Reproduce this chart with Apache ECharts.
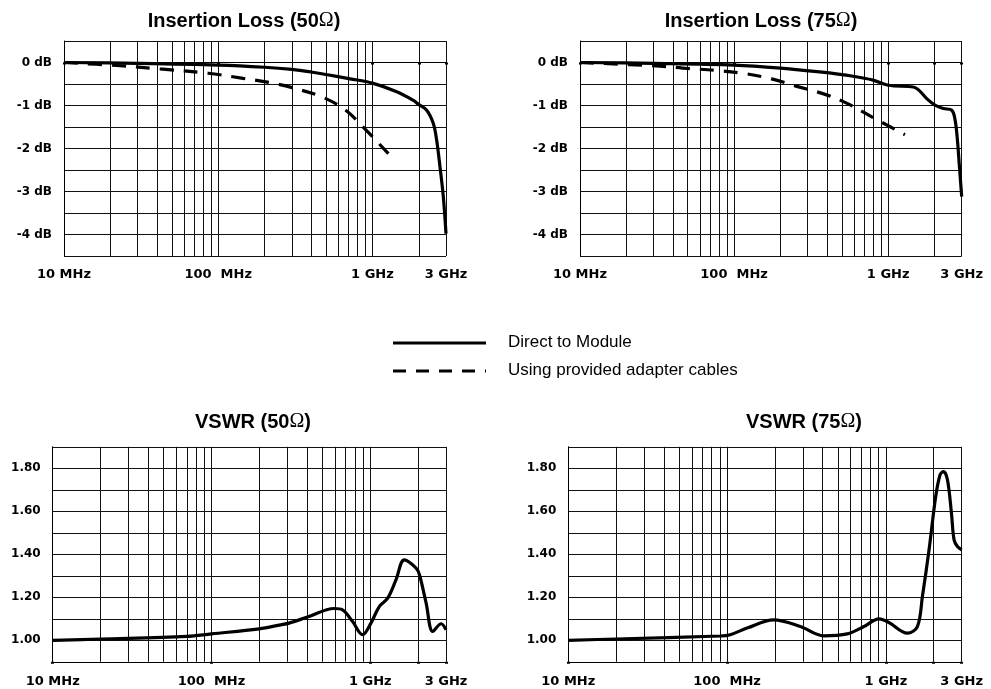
<!DOCTYPE html>
<html>
<head>
<meta charset="utf-8">
<script src="https://cdn.jsdelivr.net/npm/echarts@6/dist/echarts.min.js"></script>
<style>
html,body{margin:0;padding:0;background:#fff;}
#chart{width:991px;height:689px;}
</style>
</head>
<body>
<div id="chart"></div>
<script>
// ---------- axis definitions ----------
const gridFreqs = [10,20,30,40,50,60,70,80,90,100,200,300,400,500,600,700,800,900,1000,2000,3000];
const dotFreqs = [10,100,1000,2000,3000];
const xTickValues = [10,100,1000,3000];
const xTickLabels = ['10 MHz','100  MHz','1 GHz','3 GHz'];
const ilTickValues = [0,-1,-2,-3,-4];
const ilTickLabels = ['0 dB','-1 dB','-2 dB','-3 dB','-4 dB'];
const vswrTickValues = [1.0,1.2,1.4,1.6,1.8];
const vswrTickLabels = ['1.00','1.20','1.40','1.60','1.80'];

const titles = ['Insertion Loss (50', 'Insertion Loss (75', 'VSWR (50', 'VSWR (75'];
const seriesNames = ['Direct to Module', 'Using provided adapter cables'];

// ---------- data (frequency in MHz) ----------
const il50DirectFreq = [10, 30, 100, 200, 300, 400, 500, 717, 1000, 1438, 1842, 1986, 2249, 2483, 2610, 2743, 2882, 3000];
const il50DirectDb   = [0, -0.02, -0.06, -0.11, -0.16, -0.22, -0.28, -0.38, -0.48, -0.68, -0.88, -0.97, -1.11, -1.42, -1.81, -2.43, -3.12, -3.98];

const il50AdapterFreq = [10, 22, 42, 86, 145, 218, 313, 470, 666, 897, 1269];
const il50AdapterDb   = [0, -0.07, -0.15, -0.25, -0.37, -0.47, -0.6, -0.8, -1.1, -1.55, -2.12];

const il75DirectFreq = [10, 30, 100, 200, 359, 592, 798, 1000, 1455, 1567, 1779, 2013, 2280, 2587, 2719, 2815, 2901, 3000];
const il75DirectDb   = [0, -0.02, -0.06, -0.13, -0.22, -0.32, -0.41, -0.53, -0.57, -0.63, -0.84, -0.99, -1.07, -1.11, -1.34, -1.81, -2.43, -3.12];

const il75AdapterFreq = [10, 33, 50, 75, 116, 175, 252, 381, 541, 787, 1284];
const il75AdapterDb   = [0, -0.085, -0.14, -0.18, -0.255, -0.38, -0.55, -0.73, -0.95, -1.27, -1.68];

const vswr50Freq = [10, 20, 70, 100, 199, 273, 308, 402, 593, 669, 774, 895, 1010, 1140, 1288, 1452, 1640, 1944, 2042, 2249, 2477, 2797, 3000];
const vswr50Val  = [1.0, 1.006, 1.018, 1.03, 1.053, 1.072, 1.08, 1.108, 1.148, 1.142, 1.087, 1.026, 1.08, 1.157, 1.196, 1.281, 1.374, 1.336, 1.305, 1.173, 1.041, 1.077, 1.049];

const vswr75Freq = [10, 20, 90.6, 104.7, 133.6, 196.5, 289.5, 406, 571, 727, 904, 1044, 1365, 1578, 1697, 1868, 2058, 2193, 2303, 2440, 2585, 2686, 2821, 3000];
const vswr75Val  = [1.0, 1.006, 1.02, 1.026, 1.057, 1.095, 1.064, 1.021, 1.03, 1.064, 1.1, 1.083, 1.033, 1.064, 1.204, 1.42, 1.669, 1.77, 1.785, 1.747, 1.592, 1.467, 1.436, 1.421];

// ---------- helpers ----------
const zip = (a, b) => a.map((v, i) => [v, b[i]]);
const lookup = (vals, labels) => (v) => {
  const i = vals.findIndex(t => Math.abs(t - v) < 1e-6);
  return i >= 0 ? labels[i] : '';
};
const gridColor = '#111';
const labelFont = {fontFamily: 'DejaVu Sans', fontWeight: 'bold', color: '#000'};

const grids = [
  {left: 64,    top: 41,    width: 382,   height: 215},
  {left: 580,   top: 41,    width: 381.7, height: 215},
  {left: 52.7,  top: 446.8, width: 393.3, height: 215},
  {left: 568.3, top: 446.8, width: 393.4, height: 215}
];
const titlePos = [[244, 21], [761, 21], [253, 422], [804, 422]];

const xAxes = [];
const yAxes = [];
grids.forEach((g, gi) => {
  xAxes.push({
    type: 'log', logBase: 10, gridIndex: gi, min: 10, max: 3000, position: 'bottom',
    axisLine: {show: true, lineStyle: {color: '#000', width: 1}},
    axisTick: {show: true, customValues: dotFreqs, length: 2, lineStyle: {color: '#000', width: 3}},
    axisLabel: Object.assign({customValues: xTickValues, formatter: lookup(xTickValues, xTickLabels),
      margin: gi < 2 ? 12 : 13, fontSize: 13}, labelFont),
    splitLine: {show: false}
  });
  xAxes.push({
    type: 'log', logBase: 10, gridIndex: gi, min: 10, max: 3000, position: 'bottom',
    axisLine: {show: false},
    axisTick: {show: false, customValues: gridFreqs},
    axisLabel: {show: false},
    splitLine: {show: true, customValues: gridFreqs, lineStyle: {color: gridColor, width: 1}}
  });
  const isIL = gi < 2;
  yAxes.push({
    type: 'value', gridIndex: gi,
    min: isIL ? -4.5 : 0.9, max: isIL ? 0.5 : 1.9, interval: isIL ? 0.5 : 0.1,
    axisLine: {show: true, lineStyle: {color: '#000', width: 1}},
    axisTick: {show: false},
    splitLine: {show: true, lineStyle: {color: gridColor, width: 1}},
    axisLabel: Object.assign({
      customValues: isIL ? ilTickValues : vswrTickValues,
      formatter: isIL ? lookup(ilTickValues, ilTickLabels) : lookup(vswrTickValues, vswrTickLabels),
      margin: 12, fontSize: 12}, labelFont)
  });
});

const lineSeries = (name, gi, data, dashed) => ({
  name, type: 'line', xAxisIndex: gi * 2, yAxisIndex: gi, data,
  symbol: 'none', smooth: 0.35, animation: false,
  lineStyle: {color: '#000', width: 3.2, type: dashed ? [14, 10] : 'solid'},
  z: 5
});

const series = [
  lineSeries(seriesNames[0], 0, zip(il50DirectFreq, il50DirectDb), false),
  lineSeries(seriesNames[1], 0, zip(il50AdapterFreq, il50AdapterDb), true),
  lineSeries(seriesNames[0], 1, zip(il75DirectFreq, il75DirectDb), false),
  lineSeries(seriesNames[1], 1, zip(il75AdapterFreq, il75AdapterDb), true),
  lineSeries(seriesNames[0], 2, zip(vswr50Freq, vswr50Val), false),
  lineSeries(seriesNames[0], 3, zip(vswr75Freq, vswr75Val), false)
];

const title = titles.map((t, i) => ({
  text: '{a|' + t + '}{o|\u03A9}{a|)}',
  left: titlePos[i][0], top: titlePos[i][1], padding: 0,
  textAlign: 'center', textVerticalAlign: 'middle',
  textStyle: {
    rich: {
      a: {fontFamily: 'Liberation Sans', fontWeight: 'bold', fontSize: 20, color: '#000'},
      o: {fontFamily: 'Liberation Serif', fontWeight: 'normal', fontSize: 20, color: '#000'}
    }
  }
}));

const legendText = {fontFamily: 'Liberation Sans', fontSize: 17, fill: '#000'};
const graphic = [
  {type: 'line', shape: {x1: 393, y1: 343, x2: 486, y2: 343}, style: {stroke: '#000', lineWidth: 3}},
  {type: 'line', shape: {x1: 393, y1: 371, x2: 486, y2: 371}, style: {stroke: '#000', lineWidth: 3, lineDash: [13, 10]}},
  {type: 'text', x: 508, y: 342, style: Object.assign({text: seriesNames[0], verticalAlign: 'middle'}, legendText)},
  {type: 'text', x: 508, y: 370, style: Object.assign({text: seriesNames[1], verticalAlign: 'middle'}, legendText)}
];

const chart = echarts.init(document.getElementById('chart'), null, {renderer: 'canvas'});
chart.setOption({
  backgroundColor: '#fff',
  animation: false,
  title, grid: grids, xAxis: xAxes, yAxis: yAxes, series, graphic
});
</script>
</body>
</html>
